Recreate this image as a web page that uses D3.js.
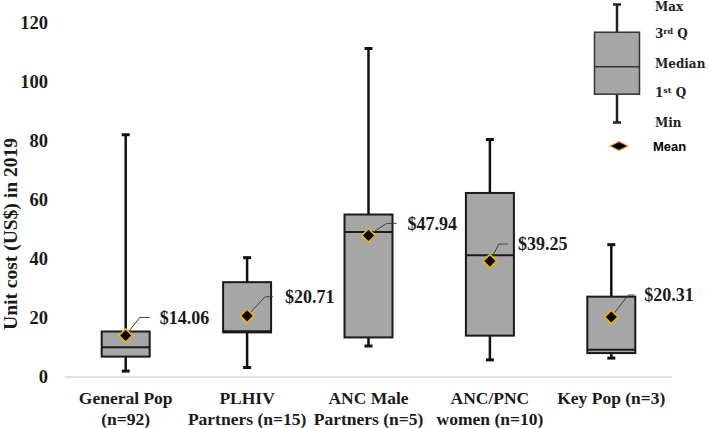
<!DOCTYPE html>
<html>
<head>
<meta charset="utf-8">
<script src="https://cdn.jsdelivr.net/npm/d3@7"></script>
<style>
  body { margin: 0; background: #fff; }
  svg { display: block; }
  .serif { font-family: "Liberation Serif", "Times New Roman", serif; font-weight: bold; fill: #1a1a1a; }
</style>
</head>
<body>
<div id="chart"></div>
<script>
// Data
const catLine1 = ["General Pop", "PLHIV", "ANC Male", "ANC/PNC", "Key Pop (n=3)"];
const catLine2 = ["(n=92)", "Partners (n=15)", "Partners (n=5)", "women (n=10)", ""];
const minVals = [2.0, 3.2, 10.5, 5.8, 6.4];
const q1Vals = [6.9, 15.1, 13.4, 14.0, 8.1];
const medianVals = [10.1, 15.5, 49.1, 41.2, 9.2];
const q3Vals = [15.4, 32.1, 55.0, 62.3, 27.2];
const maxVals = [82.0, 40.4, 111.2, 80.4, 44.8];
const meanVals = [14.06, 20.71, 47.94, 39.25, 20.31];
const yTicks = [0, 20, 40, 60, 80, 100, 120];

// leader line layout for the mean labels (pixels from the mean point)
const leaderCorner = [[14, -18], [18, -19], [18, -12], [9, -17], [17, -22]];
const leaderEnd = [24, 26, 28, 18, 23];
const labelGap = [10, 12, 11, 10, 10];

const width = 709, height = 428;
const svg = d3.select('#chart').append('svg')
  .attr('width', width)
  .attr('height', height)
  .attr('viewBox', [0, 0, width, height]);

const x = d3.scaleBand().domain(d3.range(catLine1.length)).range([65, 672]);
const y = d3.scaleLinear().domain([0, 120]).range([377, 22.5]);
const boxW = 48;

// baseline
svg.append('line')
  .attr('x1', 65).attr('x2', 672)
  .attr('y1', y(0)).attr('y2', y(0))
  .attr('stroke', '#d9d9d9').attr('stroke-width', 1.5);

// y tick labels
svg.selectAll('.ytick').data(yTicks).join('text')
  .attr('class', 'serif ytick')
  .attr('x', 48)
  .attr('y', d => y(d))
  .attr('dy', '0.35em')
  .attr('text-anchor', 'end')
  .style('font-size', '18.5px')
  .text(d => d);

// y axis title
svg.append('text')
  .attr('class', 'serif')
  .attr('transform', 'translate(17,234) rotate(-90)')
  .attr('text-anchor', 'middle')
  .style('font-size', '19.5px')
  .text('Unit cost (US$) in 2019');

const cx = i => x(i) + x.bandwidth() / 2;
const idx = d3.range(catLine1.length);

// whiskers
svg.selectAll('.whisker').data(idx).join('line')
  .attr('x1', cx).attr('x2', cx)
  .attr('y1', i => y(maxVals[i])).attr('y2', i => y(minVals[i]))
  .attr('stroke', '#111').attr('stroke-width', 2.5);

svg.selectAll('.capTop').data(idx).join('line')
  .attr('x1', i => cx(i) - 4).attr('x2', i => cx(i) + 4)
  .attr('y1', i => y(maxVals[i])).attr('y2', i => y(maxVals[i]))
  .attr('stroke', '#111').attr('stroke-width', 3);

svg.selectAll('.capBot').data(idx).join('line')
  .attr('x1', i => cx(i) - 4).attr('x2', i => cx(i) + 4)
  .attr('y1', i => y(minVals[i])).attr('y2', i => y(minVals[i]))
  .attr('stroke', '#111').attr('stroke-width', 3);

// boxes
svg.selectAll('.box').data(idx).join('rect')
  .attr('x', i => cx(i) - boxW / 2)
  .attr('y', i => y(q3Vals[i]))
  .attr('width', boxW)
  .attr('height', i => y(q1Vals[i]) - y(q3Vals[i]))
  .attr('fill', '#a6a6a6')
  .attr('stroke', '#1a1a1a').attr('stroke-width', 2);

svg.selectAll('.median').data(idx).join('line')
  .attr('x1', i => cx(i) - boxW / 2).attr('x2', i => cx(i) + boxW / 2)
  .attr('y1', i => y(medianVals[i])).attr('y2', i => y(medianVals[i]))
  .attr('stroke', '#1a1a1a').attr('stroke-width', 2);

// leader lines
svg.selectAll('.leader').data(idx).join('polyline')
  .attr('points', i => {
    const mx = cx(i), my = y(meanVals[i]);
    const c = leaderCorner[i];
    return [[mx, my], [mx + c[0], my + c[1]], [mx + leaderEnd[i], my + c[1]]].join(' ');
  })
  .attr('fill', 'none')
  .attr('stroke', '#404040').attr('stroke-width', 1);

// mean diamonds
const diamond = d3.symbol().type(d3.symbolSquare).size(90);
svg.selectAll('.mean').data(idx).join('path')
  .attr('d', diamond)
  .attr('transform', i => `translate(${cx(i)},${y(meanVals[i])}) rotate(45)`)
  .attr('fill', '#000')
  .attr('stroke', '#f2b400').attr('stroke-width', 1.6);

// mean labels
svg.selectAll('.meanLabel').data(idx).join('text')
  .attr('class', 'serif meanLabel')
  .attr('x', i => cx(i) + leaderEnd[i] + labelGap[i])
  .attr('y', i => y(meanVals[i]) + leaderCorner[i][1])
  .attr('dy', '0.35em')
  .style('font-size', '18px')
  .text(i => '$' + d3.format('.2f')(meanVals[i]));

// category labels
svg.selectAll('.cat1').data(idx).join('text')
  .attr('class', 'serif')
  .attr('x', cx).attr('y', 404)
  .attr('text-anchor', 'middle')
  .style('font-size', '17.5px')
  .text(i => catLine1[i]);

svg.selectAll('.cat2').data(idx).join('text')
  .attr('class', 'serif')
  .attr('x', cx).attr('y', 425)
  .attr('text-anchor', 'middle')
  .style('font-size', '17.5px')
  .text(i => catLine2[i]);

// legend
const legendStats = [0, 1, 2, 3, 4]; // min, 1st Q, median, 3rd Q, max
const legendNames = [["Min", ""], ["1", "st"], ["Median", ""], ["3", "rd"], ["Max", ""]];
const ly = d3.scaleLinear().domain([0, 4]).range([122.5, 4.5]);
const lx = 617;
const legendBox = [0.96, 1.89, 3.06]; // q1, median, q3 on the legend scale
const legend = svg.append('g');

legend.append('line')
  .attr('x1', lx).attr('x2', lx)
  .attr('y1', ly(4)).attr('y2', ly(0))
  .attr('stroke', '#222').attr('stroke-width', 2.5);
[0, 4].forEach(v => legend.append('line')
  .attr('x1', lx - 4).attr('x2', lx + 4)
  .attr('y1', ly(v)).attr('y2', ly(v))
  .attr('stroke', '#222').attr('stroke-width', 2.5));
legend.append('rect')
  .attr('x', lx - 22.5).attr('width', 45)
  .attr('y', ly(legendBox[2])).attr('height', ly(legendBox[0]) - ly(legendBox[2]))
  .attr('fill', '#a6a6a6').attr('stroke', '#333').attr('stroke-width', 1.5);
legend.append('line')
  .attr('x1', lx - 22.5).attr('x2', lx + 22.5)
  .attr('y1', ly(legendBox[1])).attr('y2', ly(legendBox[1]))
  .attr('stroke', '#333').attr('stroke-width', 1.5);

const lt = legend.selectAll('.ltext').data(legendStats).join('text')
  .attr('x', 655)
  .attr('y', d => Math.max(ly(d) + 4, 11))
  .style('font-family', '"DejaVu Serif", serif')
  .style('font-weight', 'bold')
  .style('font-size', '12px')
  .attr('fill', '#222');
lt.append('tspan').text(d => legendNames[d][0]);
lt.filter(d => legendNames[d][1]).append('tspan')
  .attr('dy', -4).style('font-size', '8px').text(d => legendNames[d][1]);
lt.filter(d => legendNames[d][1]).append('tspan')
  .attr('dy', 4).text(' Q');

legend.append('path')
  .attr('d', 'M-9,0L0,-4.5L9,0L0,4.5Z')
  .attr('transform', 'translate(619,146)')
  .attr('fill', '#000')
  .attr('stroke', '#f5a050').attr('stroke-width', 1.2);
legend.append('text')
  .attr('x', 653).attr('y', 146).attr('dy', '0.35em')
  .style('font-family', '"Liberation Sans", Arial, sans-serif')
  .style('font-weight', 'bold')
  .style('font-size', '13px')
  .attr('fill', '#000')
  .text('Mean');
</script>
</body>
</html>
